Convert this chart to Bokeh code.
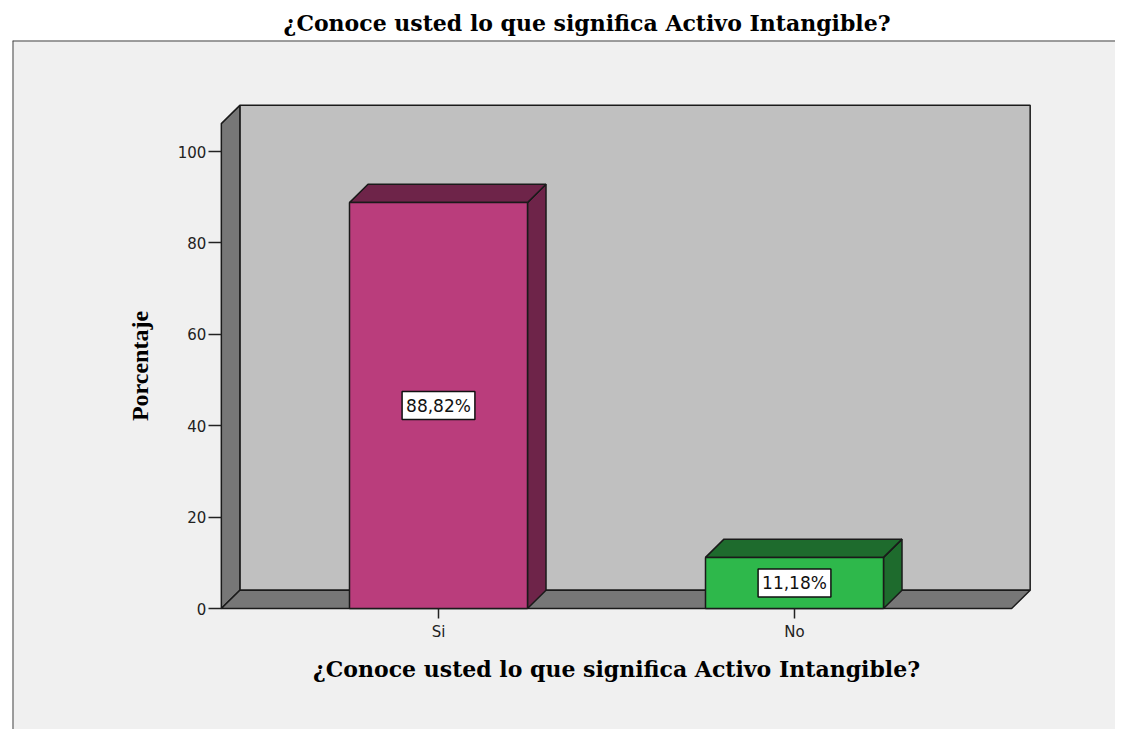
from bokeh.plotting import figure
from bokeh.models import LinearAxis, FixedTicker, ColumnDataSource, Label, Span
from bokeh.embed import file_html
from bokeh.resources import INLINE

# ---- data ----
categories = ["Si", "No"]
percentages = [88.82, 11.18]
y_ticks = [0, 20, 40, 60, 80, 100]
chart_title = "¿Conoce usted lo que significa Activo Intangible?"
x_title = "¿Conoce usted lo que significa Activo Intangible?"
y_title = "Porcentaje"

# ---- style ----
front_colors = ["#BA3D7C", "#2EB84B"]
dark_colors = ["#6E2449", "#1E6B2D"]
edge = "#1A1A1A"
positions = list(range(1, len(categories) + 1))
half_w = 0.25
dx, dy = 0.052, 4.0          # 3D depth in data units
x_lo, x_hi, wall_top = 0.39, 2.61, 106.1
X0, X1, Y0, Y1 = -0.19663, 2.90169, -26.477, 124.289

p = figure(width=1115, height=729,
           x_range=(X0, X1), y_range=(Y0, Y1),
           x_axis_location=None, y_axis_location=None,
           toolbar_location=None, output_backend="svg",
           min_border_left=12, min_border_top=40, min_border_right=0, min_border_bottom=0,
           background_fill_color="#F0F0F0", border_fill_color="white",
           outline_line_color=None)
p.xgrid.visible = False
p.ygrid.visible = False

p.title.text = chart_title
p.title.align = "left"
p.title.offset = 271
p.title.standoff = 9
p.title.text_font = "DejaVu Serif"
p.title.text_font_style = "bold"
p.title.text_font_size = "22px"
p.title.text_color = "black"

# outer frame lines (left / top)
p.add_layout(Span(location=X0, dimension="height", line_color="#444444", line_width=2))
p.add_layout(Span(location=Y1, dimension="width", line_color="#444444", line_width=2))

# 3D walls
p.quad(left=x_lo + dx, right=x_hi + dx, bottom=dy, top=wall_top + dy,
       fill_color="#C0C0C0", line_color=edge, line_width=1.5)
p.patch([x_lo, x_lo + dx, x_lo + dx, x_lo], [0, dy, wall_top + dy, wall_top],
        fill_color="#777777", line_color=edge, line_width=1.5)
p.patch([x_lo, x_hi, x_hi + dx, x_lo + dx], [0, 0, dy, dy],
        fill_color="#777777", line_color=edge, line_width=1.5)

# bars
side_xs, side_ys, top_xs, top_ys = [], [], [], []
for c, v in zip(positions, percentages):
    r = c + half_w
    l = c - half_w
    side_xs.append([r, r + dx, r + dx, r])
    side_ys.append([0, dy, v + dy, v])
    top_xs.append([l, r, r + dx, l + dx])
    top_ys.append([v, v, v + dy, v + dy])

p.patches(side_xs, side_ys, fill_color=dark_colors, line_color=edge, line_width=1.5)
p.patches(top_xs, top_ys, fill_color=dark_colors, line_color=edge, line_width=1.5)
src = ColumnDataSource(dict(x=positions, top=percentages, color=front_colors))
p.vbar(x="x", top="top", bottom=0, width=2 * half_w, source=src,
       fill_color="color", line_color=edge, line_width=1.5)

for c, v in zip(positions, percentages):
    p.add_layout(Label(x=c, y=v / 2, text=f"{v:.2f}".replace(".", ",") + "%",
                       text_align="center", text_baseline="middle",
                       text_font="DejaVu Sans", text_font_size="17px", text_color="#111111",
                       background_fill_color="white", border_line_color="#111111",
                       border_line_width=1.5, padding=4))

# axes
yaxis = LinearAxis(fixed_location=x_lo, ticker=FixedTicker(ticks=y_ticks), bounds=(0, wall_top),
                   axis_label=y_title, axis_line_color=None,
                   major_tick_in=0, major_tick_out=13, major_tick_line_color="#222222", major_tick_line_width=1.5,
                   minor_tick_line_color=None,
                   major_label_text_font="DejaVu Sans", major_label_text_font_size="15px",
                   major_label_text_color="#222222", major_label_standoff=2,
                   axis_label_text_font="Liberation Serif", axis_label_text_font_style="bold",
                   axis_label_text_font_size="24px", axis_label_text_color="black",
                   axis_label_standoff=22)
p.add_layout(yaxis, "left")

xaxis = LinearAxis(fixed_location=0, ticker=FixedTicker(ticks=positions), bounds=(x_lo, x_hi),
                   major_label_overrides={pos: cat for pos, cat in zip(positions, categories)},
                   axis_label=x_title, axis_line_color=None,
                   major_tick_in=0, major_tick_out=10, major_tick_line_color="#222222", major_tick_line_width=1.5,
                   minor_tick_line_color=None,
                   major_label_text_font="DejaVu Sans", major_label_text_font_size="15px",
                   major_label_text_color="#222222", major_label_standoff=4,
                   axis_label_text_font="DejaVu Serif", axis_label_text_font_style="bold",
                   axis_label_text_font_size="22px", axis_label_text_color="black",
                   axis_label_standoff=12)
p.add_layout(xaxis, "below")

open("out.html", "w").write(file_html(p, INLINE))
